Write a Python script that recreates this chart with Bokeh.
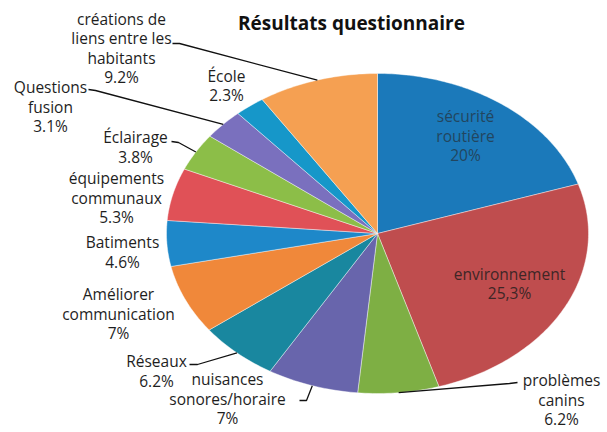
import numpy as np
from bokeh.plotting import figure
from bokeh.models import Range1d, ColumnDataSource
from bokeh.embed import file_html
from bokeh.resources import INLINE
from bokeh.core.properties import value

# ---- data ----
categories = ["sécurité\nroutière", "environnement", "problèmes\ncanins",
              "nuisances\nsonores/horaire", "Réseaux", "Améliorer\ncommunication",
              "Batiments", "équipements\ncommunaux", "Éclairage", "Questions\nfusion",
              "École", "créations de\nliens entre les\nhabitants"]
values = [20, 25.3, 6.2, 7, 6.2, 7, 4.6, 5.3, 3.8, 3.1, 2.3, 9.2]
pct_labels = ["20%", "25,3%", "6.2%", "7%", "6.2%", "7%", "4.6%", "5.3%",
              "3.8%", "3.1%", "2.3%", "9.2%"]
title_text = "Résultats questionnaire"

# ---- styles / layout ----
colors = ["#1B79BA", "#BF4D4E", "#7EAF44", "#6865AC", "#19879F", "#F0883A",
          "#1E88C9", "#E05157", "#8CBE48", "#7A70BE", "#1697C9", "#F5A052"]
label_xy = [(465, 135), (509, 283), (561, 399), (227, 398), (156, 370.5),
            (118, 313), (122, 251.5), (116, 197), (135, 146.5), (50, 106),
            (226, 85), (121, 47.5)]
label_colors = ["#22465F", "#3E2626"] + ["#1E1E1E"] * 10
LINE_STEP = 19.3
# leader lines: index -> (label-side point, elbow point)
leaders = {2: ((517, 382), (509, 383)), 3: ((299, 400), (306, 400)),
           4: ((189, 364), (197, 364)), 8: ((171, 141), (178, 142)),
           9: ((88, 89), (95, 90)), 11: ((172, 43), (179, 43))}
cx, cy, rx, ry = 377, 233, 211, 160
FONT = "Open Sans"

p = figure(width=607, height=432, x_range=Range1d(0, 607), y_range=Range1d(432, 0),
           output_backend="svg", toolbar_location=None, min_border=0)
p.axis.visible = False
p.grid.visible = False
p.outline_line_color = None
p.background_fill_color = "white"

vals = np.array(values, dtype=float)
frac = vals / vals.sum()
ends = np.cumsum(frac) * 2 * np.pi
starts = ends - frac * 2 * np.pi
mids = (starts + ends) / 2

xs, ys = [], []
for a0, a1 in zip(starts, ends):
    t = np.linspace(a0, a1, max(8, int((a1 - a0) * 60)))
    xs.append([cx] + list(cx + rx * np.sin(t)))
    ys.append([cy] + list(cy - ry * np.cos(t)))
p.patches(xs=xs, ys=ys, fill_color=colors, line_color="white", line_width=0.6,
          line_alpha=0.7)

# leader lines
lx, ly = [], []
for i, (pt0, pt1) in leaders.items():
    ex = cx + rx * np.sin(mids[i])
    ey = cy - ry * np.cos(mids[i])
    lx.append([pt0[0], pt1[0], ex])
    ly.append([pt0[1], pt1[1], ey])
p.multi_line(xs=lx, ys=ly, line_color="#111111", line_width=1.3)

tx, ty, tt, tc = [], [], [], []
for cat, pct, (x0, y0), col in zip(categories, pct_labels, label_xy, label_colors):
    lines = cat.split("\n") + [pct]
    n = len(lines)
    for k, line in enumerate(lines):
        tx.append(x0)
        ty.append(y0 + (k - (n - 1) / 2) * LINE_STEP)
        tt.append(line)
        tc.append(col)
src = ColumnDataSource(dict(x=tx, y=ty, t=tt, c=tc))
p.text(x="x", y="y", text="t", source=src, text_color="c", text_align="center",
       text_baseline="middle", text_font=value(FONT), text_font_size="15.5px")

p.text(x=[351], y=[22], text=[title_text], text_align="center", text_baseline="middle",
       text_font=value(FONT), text_font_size="19px", text_font_style="bold",
       text_color="#111111")

open("out.html", "w").write(file_html(p, INLINE))
